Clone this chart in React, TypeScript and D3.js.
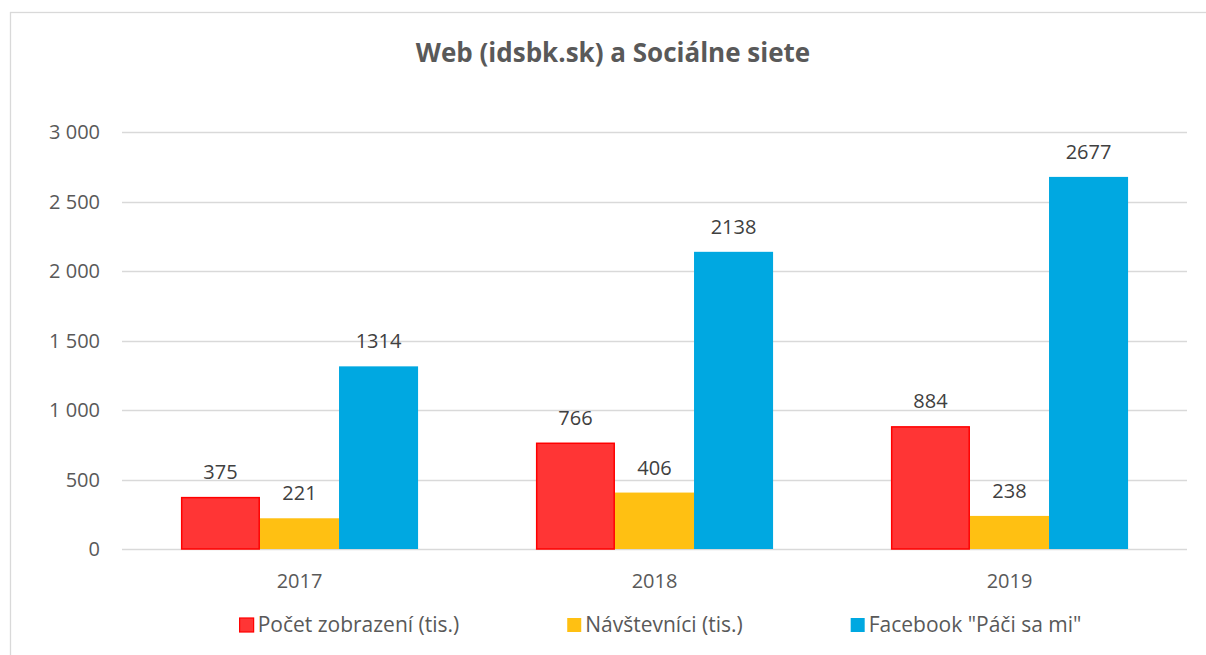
import React, { useEffect, useRef } from "react";
import * as d3 from "d3";

const years = ["2017", "2018", "2019"];
const seriesNames = ["Počet zobrazení (tis.)", "Návštevníci (tis.)", 'Facebook "Páči sa mi"'];
const pocetZobrazeni = [375, 766, 884];
const navstevnici = [221, 406, 238];
const facebook = [1314, 2138, 2677];
const yTicks = [0, 500, 1000, 1500, 2000, 2500, 3000];
const title = "Web (idsbk.sk) a Sociálne siete";

const fills = ["#FF3535", "#FFC012", "#00A8E1"];
const strokes = ["#FF0000", "none", "none"];

const W = 1206;
const H = 655;
const FONT = "'Open Sans', 'Noto Sans', sans-serif";

export default function App() {
  const ref = useRef<SVGSVGElement | null>(null);

  useEffect(() => {
    const svg = d3.select(ref.current);
    svg.selectAll("*").remove();

    const series = [pocetZobrazeni, navstevnici, facebook];
    const left = 122, right = 1187, top = 132, bottom = 549;

    // border
    svg.append("rect")
      .attr("x", 10.5).attr("y", 12.5)
      .attr("width", 1210).attr("height", 660)
      .attr("fill", "white").attr("stroke", "#d9d9d9").attr("stroke-width", 1.3);

    const y = d3.scaleLinear().domain([0, 3000]).range([bottom, top]);
    const x0 = d3.scaleBand<string>().domain(years).range([left, right])
      .paddingInner(0.332).paddingOuter(0.166);
    const x1 = d3.scaleBand<number>().domain([0, 1, 2]).range([0, x0.bandwidth()]);

    // gridlines
    svg.append("g").selectAll("line").data(yTicks).join("line")
      .attr("x1", left).attr("x2", right)
      .attr("y1", (d) => Math.round(y(d)) + 0.5).attr("y2", (d) => Math.round(y(d)) + 0.5)
      .attr("stroke", "#d9d9d9").attr("stroke-width", 1.3);

    // y tick labels
    svg.append("g").selectAll("text").data(yTicks).join("text")
      .attr("x", 100).attr("y", (d) => y(d) + 7)
      .attr("text-anchor", "end")
      .attr("font-family", FONT).attr("font-size", 20).attr("fill", "#595959")
      .text((d) => d3.format(",")(d).replace(/,/g, " "));

    // bars
    const groups = svg.append("g").selectAll("g").data(years).join("g")
      .attr("transform", (d) => `translate(${x0(d)},0)`);

    groups.each(function (_yr, gi) {
      const g = d3.select(this);
      series.forEach((vals, si) => {
        const v = vals[gi];
        const bx = x1(si)!;
        const bw = x1.bandwidth();
        const hasStroke = strokes[si] !== "none";
        g.append("rect")
          .attr("x", bx + (hasStroke ? 0.75 : 0))
          .attr("y", y(v) + (hasStroke ? 0.75 : 0))
          .attr("width", bw - (hasStroke ? 1.5 : 0))
          .attr("height", bottom - y(v) - (hasStroke ? 0.75 : 0))
          .attr("fill", fills[si])
          .attr("stroke", strokes[si])
          .attr("stroke-width", hasStroke ? 1.5 : 0);
        g.append("text")
          .attr("x", bx + bw / 2).attr("y", y(v) - 18)
          .attr("text-anchor", "middle")
          .attr("font-family", FONT).attr("font-size", 20).attr("fill", "#404040")
          .text(String(v));
      });
    });

    // x labels
    svg.append("g").selectAll("text").data(years).join("text")
      .attr("x", (d) => x0(d)! + x0.bandwidth() / 2).attr("y", 588)
      .attr("text-anchor", "middle")
      .attr("font-family", FONT).attr("font-size", 20).attr("fill", "#595959")
      .text((d) => d);

    // title
    svg.append("text")
      .attr("x", 613).attr("y", 62)
      .attr("text-anchor", "middle")
      .attr("font-family", FONT).attr("font-size", 26).attr("font-weight", "bold")
      .attr("fill", "#595959")
      .text(title);

    // legend
    const leg = svg.append("g");
    const sq = 14, gap = 4, itemGap = 108;
    const items = seriesNames.map((name, i) => {
      const g = leg.append("g");
      g.append("rect").attr("x", 0).attr("y", 618).attr("width", sq).attr("height", sq)
        .attr("fill", fills[i]).attr("stroke", strokes[i]).attr("stroke-width", strokes[i] !== "none" ? 1.2 : 0);
      const t = g.append("text").attr("x", sq + gap).attr("y", 632)
        .attr("font-family", FONT).attr("font-size", 21).attr("fill", "#595959")
        .text(name);
      const tw = (t.node() as SVGTextElement).getComputedTextLength();
      return { g, w: sq + gap + tw };
    });
    const total = items.reduce((s, it) => s + it.w, 0) + itemGap * (items.length - 1);
    let cx = 660.5 - total / 2;
    items.forEach((it) => {
      it.g.attr("transform", `translate(${cx},0)`);
      cx += it.w + itemGap;
    });
  }, []);

  return (
    <svg
      ref={ref}
      width={W}
      height={H}
      style={{ position: "absolute", left: 0, top: 0, background: "white", overflow: "hidden" }}
    />
  );
}
